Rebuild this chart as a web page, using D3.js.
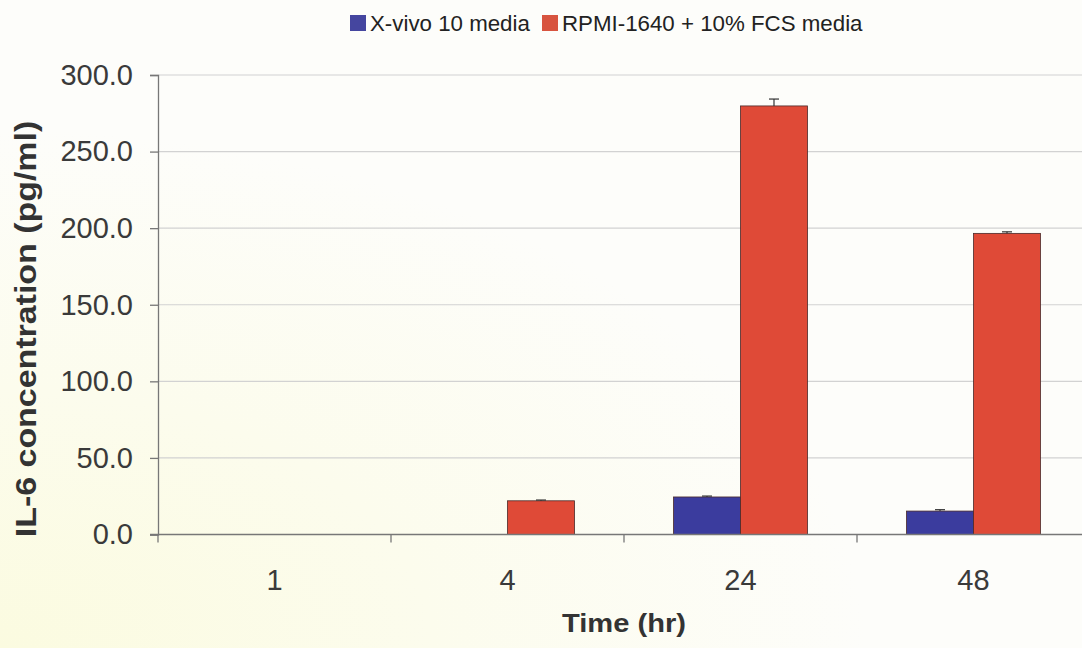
<!DOCTYPE html>
<html>
<head>
<meta charset="utf-8">
<script src="https://cdn.jsdelivr.net/npm/d3@7"></script>
<style>
  html, body { margin: 0; padding: 0; background: #fdfdf9; }
  svg { display: block; }
  text { font-family: "Liberation Sans", Arial, sans-serif; }
</style>
</head>
<body>
<svg id="chart" width="1082" height="648"></svg>
<script>
const categories = ["1", "4", "24", "48"];
const seriesNames = ["X-vivo 10 media", "RPMI-1640 + 10% FCS media"];
const xvivoValues = [0, 0, 24.5, 15.3];
const xvivoErrors = [0, 0, 0.6, 0.9];
const rpmiValues = [0, 22.0, 279.8, 196.6];
const rpmiErrors = [0, 0.5, 4.5, 1.0];
const yTicks = [0, 50, 100, 150, 200, 250, 300];
const seriesColors = ["#3b3c9e", "#df4a37"];
const legendColors = ["#45469f", "#d8543f"];

(function () {
const W = 1082, H = 648;
const svg = d3.select("#chart");

// background with faint yellow tint toward bottom-left
const defs = svg.append("defs");
const grad = defs.append("radialGradient").attr("id", "bg")
  .attr("cx", "0%").attr("cy", "100%").attr("r", "80%");
grad.append("stop").attr("offset", "0%").attr("stop-color", "#fbfbe0");
grad.append("stop").attr("offset", "100%").attr("stop-color", "#fdfdfa");
svg.append("rect").attr("width", W).attr("height", H).attr("fill", "url(#bg)");

const mLeft = 158, mTop = 75, mBottom = 534.5, step = 233;
const x = d3.scaleBand().domain(categories)
  .range([mLeft, mLeft + step * categories.length]).paddingInner(0).paddingOuter(0);
const xs = d3.scaleBand().domain(seriesNames)
  .range([0, x.bandwidth()]).paddingInner(0).paddingOuter(0.739);
const y = d3.scaleLinear().domain([0, 300]).range([mBottom, mTop]);

// gridlines
svg.append("g").selectAll("line").data(yTicks.filter(d => d > 0)).join("line")
  .attr("x1", mLeft).attr("x2", W)
  .attr("y1", d => y(d)).attr("y2", d => y(d))
  .attr("stroke", "#d2d2d2").attr("stroke-width", 1.2);

// y axis
const yAxis = svg.append("g").attr("transform", `translate(${mLeft},0)`)
  .call(d3.axisLeft(y).tickValues(yTicks).tickFormat(d3.format(".1f")).tickSize(8).tickPadding(17));
yAxis.select(".domain").attr("stroke", "#777").attr("stroke-width", 1.3);
yAxis.selectAll(".tick line").attr("stroke", "#777").attr("stroke-width", 1.3);
yAxis.selectAll(".tick text").attr("font-size", 29).attr("fill", "#3a3a3a")
  .attr("font-family", "Liberation Sans, Arial, sans-serif");

// bars
const data = categories.map((c, i) => ({
  cat: c,
  vals: [
    { s: seriesNames[0], v: xvivoValues[i], e: xvivoErrors[i], k: 0 },
    { s: seriesNames[1], v: rpmiValues[i], e: rpmiErrors[i], k: 1 }
  ]
}));
const groups = svg.append("g").selectAll("g").data(data).join("g")
  .attr("transform", d => `translate(${x(d.cat)},0)`);
const bars = groups.selectAll("g.bar").data(d => d.vals.filter(v => v.v > 0)).join("g").attr("class", "bar");
bars.append("rect")
  .attr("x", d => xs(d.s)).attr("width", xs.bandwidth())
  .attr("y", d => y(d.v)).attr("height", d => y(0) - y(d.v))
  .attr("fill", d => seriesColors[d.k]).attr("stroke", "#4a2a2a").attr("stroke-width", 0.8);
// error bars
bars.append("line")
  .attr("x1", d => xs(d.s) + xs.bandwidth() / 2).attr("x2", d => xs(d.s) + xs.bandwidth() / 2)
  .attr("y1", d => y(d.v)).attr("y2", d => y(d.v + d.e))
  .attr("stroke", "#333").attr("stroke-width", 1.2);
bars.append("line")
  .attr("x1", d => xs(d.s) + xs.bandwidth() / 2 - 5).attr("x2", d => xs(d.s) + xs.bandwidth() / 2 + 5)
  .attr("y1", d => y(d.v + d.e)).attr("y2", d => y(d.v + d.e))
  .attr("stroke", "#333").attr("stroke-width", 1.2);

// x axis
const xAxisG = svg.append("g");
xAxisG.append("line").attr("x1", mLeft - 8).attr("x2", W)
  .attr("y1", y(0)).attr("y2", y(0)).attr("stroke", "#777").attr("stroke-width", 1.3);
xAxisG.selectAll("line.tk").data(categories).join("line").attr("class", "tk")
  .attr("x1", d => x(d)).attr("x2", d => x(d))
  .attr("y1", y(0)).attr("y2", y(0) + 8).attr("stroke", "#777").attr("stroke-width", 1.3);
xAxisG.selectAll("text").data(categories).join("text")
  .attr("x", d => x(d) + x.bandwidth() / 2).attr("y", 590)
  .attr("text-anchor", "middle").attr("font-size", 29).attr("fill", "#3a3a3a")
  .text(d => d);

// axis titles
svg.append("text")
  .attr("transform", "translate(624,632) scale(1.12,1)")
  .attr("text-anchor", "middle").attr("font-size", 26).attr("font-weight", "bold").attr("fill", "#333")
  .text("Time (hr)");
svg.append("text")
  .attr("transform", "translate(36,329) rotate(-90) scale(1.17,1)")
  .attr("text-anchor", "middle").attr("font-size", 29).attr("font-weight", "bold").attr("fill", "#333")
  .text("IL-6 concentration (pg/ml)");

// legend
const legendItems = [
  { name: seriesNames[0], x0: 350 },
  { name: seriesNames[1], x0: 542 }
];
const lg = svg.append("g").selectAll("g").data(legendItems).join("g")
  .attr("transform", d => `translate(${d.x0},15)`);
lg.append("rect").attr("width", 16).attr("height", 16)
  .attr("fill", (d, i) => legendColors[i]);
lg.append("text").attr("x", 20).attr("y", 16)
  .attr("font-size", 22.3).attr("fill", "#222").text(d => d.name);
})();
</script>
</body>
</html>
